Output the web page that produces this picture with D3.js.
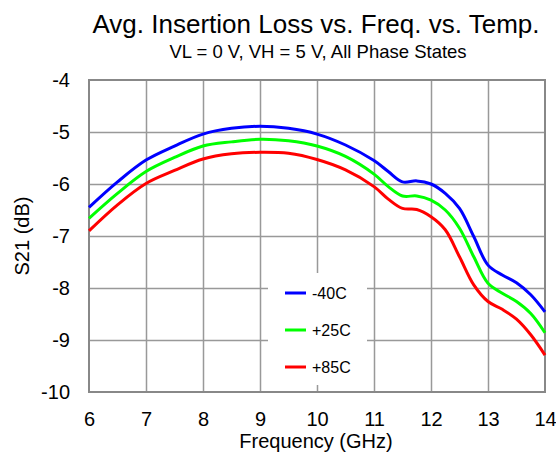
<!DOCTYPE html>
<html>
<head>
<meta charset="utf-8">
<script src="https://cdn.jsdelivr.net/npm/d3@7"></script>
<style>
  body { margin: 0; background: #fff; }
  svg { display: block; font-family: "Liberation Sans", Arial, sans-serif; }
</style>
</head>
<body>
<div id="chart"></div>
<script>
// frequency points (GHz)
var freqs = [6, 6.5, 7, 7.5, 8, 8.5, 9, 9.5, 10, 10.5, 11, 11.25, 11.5, 11.75, 12, 12.25, 12.5, 12.75, 13, 13.25, 13.5, 13.75, 14];
// S21 (dB) per temperature
var lossM40 = [-6.45, -5.96, -5.54, -5.27, -5.04, -4.93, -4.89, -4.93, -5.04, -5.25, -5.55, -5.76, -5.96, -5.94, -6.00, -6.18, -6.47, -7.01, -7.56, -7.75, -7.90, -8.13, -8.46];
var lossP25 = [-6.66, -6.18, -5.76, -5.49, -5.27, -5.19, -5.14, -5.17, -5.27, -5.47, -5.81, -6.05, -6.23, -6.23, -6.31, -6.50, -6.85, -7.40, -7.91, -8.10, -8.26, -8.49, -8.86];
var lossP85 = [-6.90, -6.40, -5.99, -5.74, -5.52, -5.42, -5.39, -5.41, -5.53, -5.73, -6.05, -6.29, -6.47, -6.49, -6.63, -6.88, -7.40, -7.94, -8.26, -8.41, -8.60, -8.90, -9.29];
var seriesNames = ["-40C", "+25C", "+85C"];
var seriesColors = ["#0000ff", "#00ff00", "#ff0000"];
var xTicks = [6, 7, 8, 9, 10, 11, 12, 13, 14];
var yTicks = [-4, -5, -6, -7, -8, -9, -10];

var width = 556, height = 460;
var plot = { left: 89, right: 545, top: 80, bottom: 392 };

var svg = d3.select("#chart").append("svg")
  .attr("width", width)
  .attr("height", height);

var xScale = d3.scaleLinear().domain([6, 14]).range([plot.left, plot.right]);
var yScale = d3.scaleLinear().domain([-10, -4]).range([plot.bottom, plot.top]);

// titles
svg.append("text")
  .attr("x", 316).attr("y", 33)
  .attr("text-anchor", "middle")
  .style("font-size", "26px")
  .text("Avg. Insertion Loss vs. Freq. vs. Temp.");

svg.append("text")
  .attr("x", 318).attr("y", 58)
  .attr("text-anchor", "middle")
  .style("font-size", "18.5px")
  .text("VL = 0 V, VH = 5 V, All Phase States");

// grid
var grid = svg.append("g").attr("class", "grid");
grid.selectAll(".vline")
  .data(xTicks.slice(1, -1))
  .enter().append("line")
  .attr("x1", d => Math.round(xScale(d)) + 0.5)
  .attr("x2", d => Math.round(xScale(d)) + 0.5)
  .attr("y1", plot.top).attr("y2", plot.bottom)
  .style("stroke", "#999").style("stroke-width", 1.5);
grid.selectAll(".hline")
  .data(yTicks.slice(1, -1))
  .enter().append("line")
  .attr("y1", d => Math.round(yScale(d)) + 0.5)
  .attr("y2", d => Math.round(yScale(d)) + 0.5)
  .attr("x1", plot.left).attr("x2", plot.right)
  .style("stroke", "#999").style("stroke-width", 1.5);

// frame
svg.append("rect")
  .attr("x", plot.left).attr("y", plot.top)
  .attr("width", plot.right - plot.left)
  .attr("height", plot.bottom - plot.top)
  .style("fill", "none")
  .style("stroke", "#888")
  .style("stroke-width", 2);

// axes labels (plain hyphen minus like the original)
var xAxis = svg.append("g")
  .attr("transform", "translate(0," + plot.bottom + ")")
  .call(d3.axisBottom(xScale).tickValues(xTicks).tickSize(0).tickPadding(34).tickFormat(d => String(d)));
xAxis.select(".domain").remove();
xAxis.selectAll("text").style("font-size", "20px").style("fill", "#000").attr("dy", "0");

var yAxis = svg.append("g")
  .attr("transform", "translate(" + plot.left + ",0)")
  .call(d3.axisLeft(yScale).tickValues(yTicks).tickSize(0).tickPadding(19).tickFormat(d => String(d)));
yAxis.select(".domain").remove();
yAxis.selectAll("text").style("font-size", "20px").style("fill", "#000");

svg.append("text")
  .attr("x", 316).attr("y", 448)
  .attr("text-anchor", "middle")
  .style("font-size", "20px")
  .text("Frequency (GHz)");

svg.append("text")
  .attr("transform", "translate(29," + ((plot.top + plot.bottom) / 2) + ")rotate(-90)")
  .attr("text-anchor", "middle")
  .style("font-size", "20px")
  .text("S21 (dB)");

// curves
var line = d3.line()
  .x((d, i) => xScale(freqs[i]))
  .y(d => yScale(d))
  .curve(d3.curveCatmullRom.alpha(0.5));

var allSeries = [lossM40, lossP25, lossP85];
var plotArea = svg.append("g");
allSeries.forEach(function (s, k) {
  plotArea.append("path")
    .datum(s)
    .attr("d", line)
    .style("fill", "none")
    .style("stroke", seriesColors[k])
    .style("stroke-width", 3);
});

// legend
var legend = svg.append("g");
legend.append("rect")
  .attr("x", 268).attr("y", 273)
  .attr("width", 99).attr("height", 112)
  .style("fill", "#fff");
seriesNames.forEach(function (name, k) {
  var ly = 293 + k * 37;
  legend.append("line")
    .attr("x1", 285).attr("x2", 306)
    .attr("y1", ly).attr("y2", ly)
    .style("stroke", seriesColors[k])
    .style("stroke-width", 3);
  legend.append("text")
    .attr("x", 312).attr("y", ly + 6)
    .style("font-size", "16px")
    .text(name);
});
</script>
</body>
</html>
